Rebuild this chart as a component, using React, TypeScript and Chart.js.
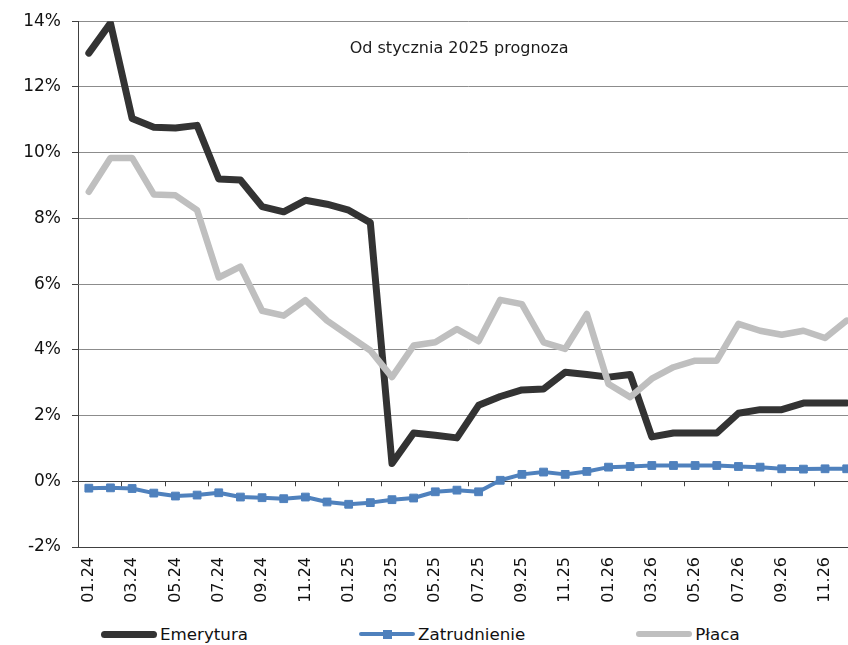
import React, { useEffect, useRef } from "react";
import { Chart, registerables } from "chart.js";

Chart.register(...registerables);

const months = [
  "01.24", "02.24", "03.24", "04.24", "05.24", "06.24", "07.24", "08.24", "09.24", "10.24", "11.24", "12.24",
  "01.25", "02.25", "03.25", "04.25", "05.25", "06.25", "07.25", "08.25", "09.25", "10.25", "11.25", "12.25",
  "01.26", "02.26", "03.26", "04.26", "05.26", "06.26", "07.26", "08.26", "09.26", "10.26", "11.26", "12.26",
];

const emerytura = [
  13.03, 13.94, 11.04, 10.77, 10.75, 10.83, 9.2, 9.17, 8.36, 8.2, 8.55, 8.43,
  8.25, 7.87, 0.54, 1.47, 1.4, 1.32, 2.31, 2.58, 2.78, 2.81, 3.32, 3.25,
  3.17, 3.25, 1.35, 1.47, 1.47, 1.47, 2.07, 2.18, 2.18, 2.38, 2.38, 2.38,
];

const zatrudnienie = [
  -0.21, -0.2, -0.22, -0.36, -0.45, -0.42, -0.35, -0.48, -0.5, -0.53, -0.48, -0.63,
  -0.7, -0.65, -0.56, -0.51, -0.32, -0.27, -0.32, 0.03, 0.21, 0.28, 0.21, 0.3,
  0.43, 0.45, 0.48, 0.48, 0.48, 0.48, 0.45, 0.43, 0.38, 0.37, 0.38, 0.38,
];

const placa = [
  8.81, 9.84, 9.84, 8.73, 8.7, 8.25, 6.2, 6.53, 5.19, 5.04, 5.51, 4.89,
  4.43, 3.98, 3.17, 4.13, 4.23, 4.63, 4.26, 5.52, 5.39, 4.23, 4.03, 5.09,
  2.96, 2.56, 3.12, 3.47, 3.67, 3.67, 4.79, 4.58, 4.46, 4.58, 4.36, 4.89,
];

const yTicks = [-2, 0, 2, 4, 6, 8, 10, 12, 14];

const annotationText = "Od stycznia 2025 prognoza";
const annotationX = 17.1; // category index position
const annotationY = 13.17; // value position

const FONT = "'DejaVu Sans', Verdana, sans-serif";

const C_EMER = "#333333";
const C_ZAT = "#4f81bd";
const C_PLACA = "#bfbfbf";

const zeroTicksPlugin = {
  id: "zeroTicks",
  afterDatasetsDraw(chart: any) {
    const { ctx } = chart;
    const x = chart.scales.x;
    const y = chart.scales.y;
    const y0 = y.getPixelForValue(0);
    ctx.save();
    ctx.strokeStyle = "#404040";
    ctx.lineWidth = 1;
    ctx.beginPath();
    for (let i = 2; i < months.length; i += 2) {
      const px = Math.round((x.getPixelForValue(i - 1) + x.getPixelForValue(i)) / 2) + 0.5;
      ctx.moveTo(px, y0);
      ctx.lineTo(px, y0 + 5);
    }
    ctx.stroke();
    ctx.font = `16px ${FONT}`;
    ctx.fillStyle = "#1a1a1a";
    ctx.textAlign = "center";
    ctx.textBaseline = "middle";
    ctx.fillText(annotationText, x.getPixelForValue(annotationX), y.getPixelForValue(annotationY));
    ctx.restore();
  },
};

export default function App() {
  const ref = useRef<HTMLCanvasElement | null>(null);

  useEffect(() => {
    if (!ref.current) return;
    const chart = new Chart(ref.current, {
      type: "line",
      data: {
        labels: months,
        datasets: [
          {
            label: "Emerytura",
            data: emerytura,
            borderColor: C_EMER,
            backgroundColor: C_EMER,
            borderWidth: 7,
            pointRadius: 0,
            borderJoinStyle: "round",
            borderCapStyle: "round",
            order: 2,
          },
          {
            label: "Zatrudnienie",
            data: zatrudnienie,
            borderColor: C_ZAT,
            backgroundColor: C_ZAT,
            borderWidth: 4,
            pointStyle: "rect",
            pointRadius: 5.5,
            pointBorderWidth: 1,
            pointBackgroundColor: C_ZAT,
            pointBorderColor: C_ZAT,
            borderJoinStyle: "round",
            borderCapStyle: "round",
            order: 1,
          },
          {
            label: "Płaca",
            data: placa,
            borderColor: C_PLACA,
            backgroundColor: C_PLACA,
            borderWidth: 6.5,
            pointRadius: 0,
            borderJoinStyle: "round",
            borderCapStyle: "round",
            order: 0,
          },
        ],
      },
      options: {
        animation: false,
        responsive: false,
        devicePixelRatio: 1,
        layout: { padding: { top: 20, right: 3, left: 0, bottom: 0 } },
        plugins: {
          legend: { display: false },
          tooltip: { enabled: false },
        },
        scales: {
          x: {
            type: "category",
            offset: true,
            grid: { display: false, drawTicks: false },
            border: { display: true, color: "#404040", width: 1 },
            ticks: {
              autoSkip: false,
              minRotation: 90,
              maxRotation: 90,
              padding: 10,
              color: "#111111",
              font: { family: FONT, size: 16 },
              callback: (_v: any, i: number) => (i % 2 === 0 ? months[i] : ""),
            },
            afterFit: (s: any) => {
              s.height = 65;
            },
          },
          y: {
            min: -2,
            max: 14,
            afterBuildTicks: (s: any) => {
              s.ticks = yTicks.map((v) => ({ value: v }));
            },
            grid: {
              color: (c: any) => (c.tick && c.tick.value === 0 ? "#404040" : "#8c8c8c"),
              tickColor: "#404040",
              tickLength: 6,
              lineWidth: 1,
            },
            border: { display: true, color: "#404040", width: 1 },
            ticks: {
              padding: 11,
              color: "#111111",
              font: { family: FONT, size: 17 },
              callback: (v: any) => `${v}%`,
            },
            afterFit: (s: any) => {
              s.width = 78;
            },
          },
        },
      },
      plugins: [zeroTicksPlugin],
    });
    return () => chart.destroy();
  }, []);

  const legendItems = [
    { label: "Emerytura", color: C_EMER, h: 7, marker: false },
    { label: "Zatrudnienie", color: C_ZAT, h: 4, marker: true },
    { label: "Płaca", color: C_PLACA, h: 6.5, marker: false },
  ];

  return (
    <div
      style={{
        position: "fixed",
        left: 0,
        top: 0,
        width: 848,
        height: 645,
        overflow: "hidden",
        background: "#ffffff",
      }}
    >
      <canvas
        ref={ref}
        width={876}
        height={612}
        style={{ position: "absolute", left: 0, top: 0, width: 876, height: 612 }}
      />
      <div
        style={{
          position: "absolute",
          left: 101,
          top: 622,
          height: 24,
          display: "flex",
          alignItems: "center",
          gap: 111,
          fontFamily: FONT,
          fontSize: 16.7,
          color: "#111111",
          whiteSpace: "nowrap",
        }}
      >
        {legendItems.map((it) => (
          <div key={it.label} style={{ display: "flex", alignItems: "center" }}>
            <div
              style={{
                position: "relative",
                width: 56,
                height: it.h,
                borderRadius: it.h / 2,
                background: it.color,
                marginRight: 3,
              }}
            >
              {it.marker && (
                <div
                  style={{
                    position: "absolute",
                    left: 24,
                    top: -2.5,
                    width: 9,
                    height: 9,
                    background: it.color,
                  }}
                />
              )}
            </div>
            <span>{it.label}</span>
          </div>
        ))}
      </div>
    </div>
  );
}
